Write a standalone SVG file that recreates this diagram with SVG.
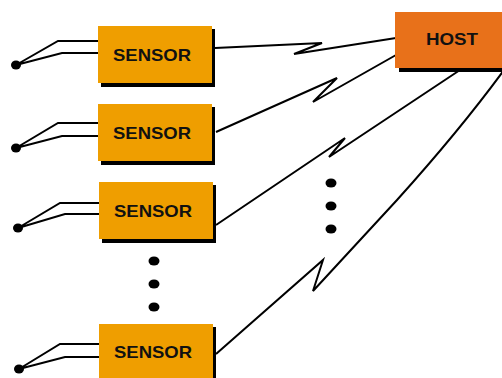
<svg xmlns="http://www.w3.org/2000/svg" width="502" height="378" viewBox="0 0 502 378">
<style>
.sensor{fill:#EF9E00}
.host{fill:#E8711A}
.shadow{fill:#000}
.lbl{font-family:"Liberation Sans",Arial,sans-serif;font-weight:bold;font-size:16.5px;fill:#111;text-anchor:middle}
.wire{fill:none;stroke:#000;stroke-width:2;stroke-linejoin:miter}
.dot{fill:#000}
</style>
<rect width="502" height="378" fill="#fff"/>
<g id="connectors">
<path class="wire" d="M16,65 L58,41 L98,41 M16,65 L62,53 L98,53"/>
<path class="wire" d="M16,148 L58,123 L98,123 M16,148 L62,136 L98,136"/>
<path class="wire" d="M18,228 L60,203 L99,203 M18,228 L65,214 L99,214"/>
<path class="wire" d="M19,369 L60,344 L99,344 M19,369 L65,357 L99,357"/>
<path class="wire" d="M215,48 L322,43 L294,54 L396,38"/>
<path class="wire" d="M216,132 L337,78 L313,102 L396,55"/>
<path class="wire" d="M216,225 L345,138 L329,157 L460,70"/>
<path class="wire" d="M216,354 L323,260 L313,291 L397,200 Q460,130 504,70"/>
</g>
<g id="sensor1">
<rect class="shadow" x="101" y="29" width="114" height="58"/>
<rect class="sensor" x="98" y="26" width="114" height="57"/>
<text class="lbl" x="152" y="61" textLength="78" lengthAdjust="spacingAndGlyphs">SENSOR</text>
</g>
<g id="sensor2">
<rect class="shadow" x="101" y="107" width="114" height="58"/>
<rect class="sensor" x="98" y="104" width="114" height="57"/>
<text class="lbl" x="152" y="139" textLength="78" lengthAdjust="spacingAndGlyphs">SENSOR</text>
</g>
<g id="sensor3">
<rect class="shadow" x="102" y="185" width="114" height="58"/>
<rect class="sensor" x="99" y="182" width="114" height="57"/>
<text class="lbl" x="153" y="217" textLength="78" lengthAdjust="spacingAndGlyphs">SENSOR</text>
</g>
<g id="sensor4">
<rect class="shadow" x="102" y="327" width="114" height="58"/>
<rect class="sensor" x="99" y="324" width="114" height="57"/>
<text class="lbl" x="153" y="358" textLength="78" lengthAdjust="spacingAndGlyphs">SENSOR</text>
</g>
<g id="host">
<rect class="shadow" x="399" y="16" width="110" height="56"/>
<rect class="host" x="395" y="12" width="110" height="56"/>
<text class="lbl" x="452" y="45" textLength="52" lengthAdjust="spacingAndGlyphs">HOST</text>
</g>
<g id="ellipsis-left">
<ellipse class="dot" cx="154" cy="261" rx="5.5" ry="4.5"/>
<ellipse class="dot" cx="154" cy="284" rx="5.5" ry="4.5"/>
<ellipse class="dot" cx="154" cy="307" rx="5.5" ry="4.5"/>
</g>
<g id="ellipsis-mid">
<ellipse class="dot" cx="331" cy="183" rx="5.5" ry="4.5"/>
<ellipse class="dot" cx="331" cy="206" rx="5.5" ry="4.5"/>
<ellipse class="dot" cx="331" cy="229" rx="5.5" ry="4.5"/>
</g>
<g id="antenna-dots">
<ellipse class="dot" cx="16" cy="65" rx="5" ry="4.5"/>
<ellipse class="dot" cx="16" cy="148" rx="5" ry="4.5"/>
<ellipse class="dot" cx="18" cy="228" rx="5" ry="4.5"/>
<ellipse class="dot" cx="19" cy="369" rx="5" ry="4.5"/>
</g>
</svg>
